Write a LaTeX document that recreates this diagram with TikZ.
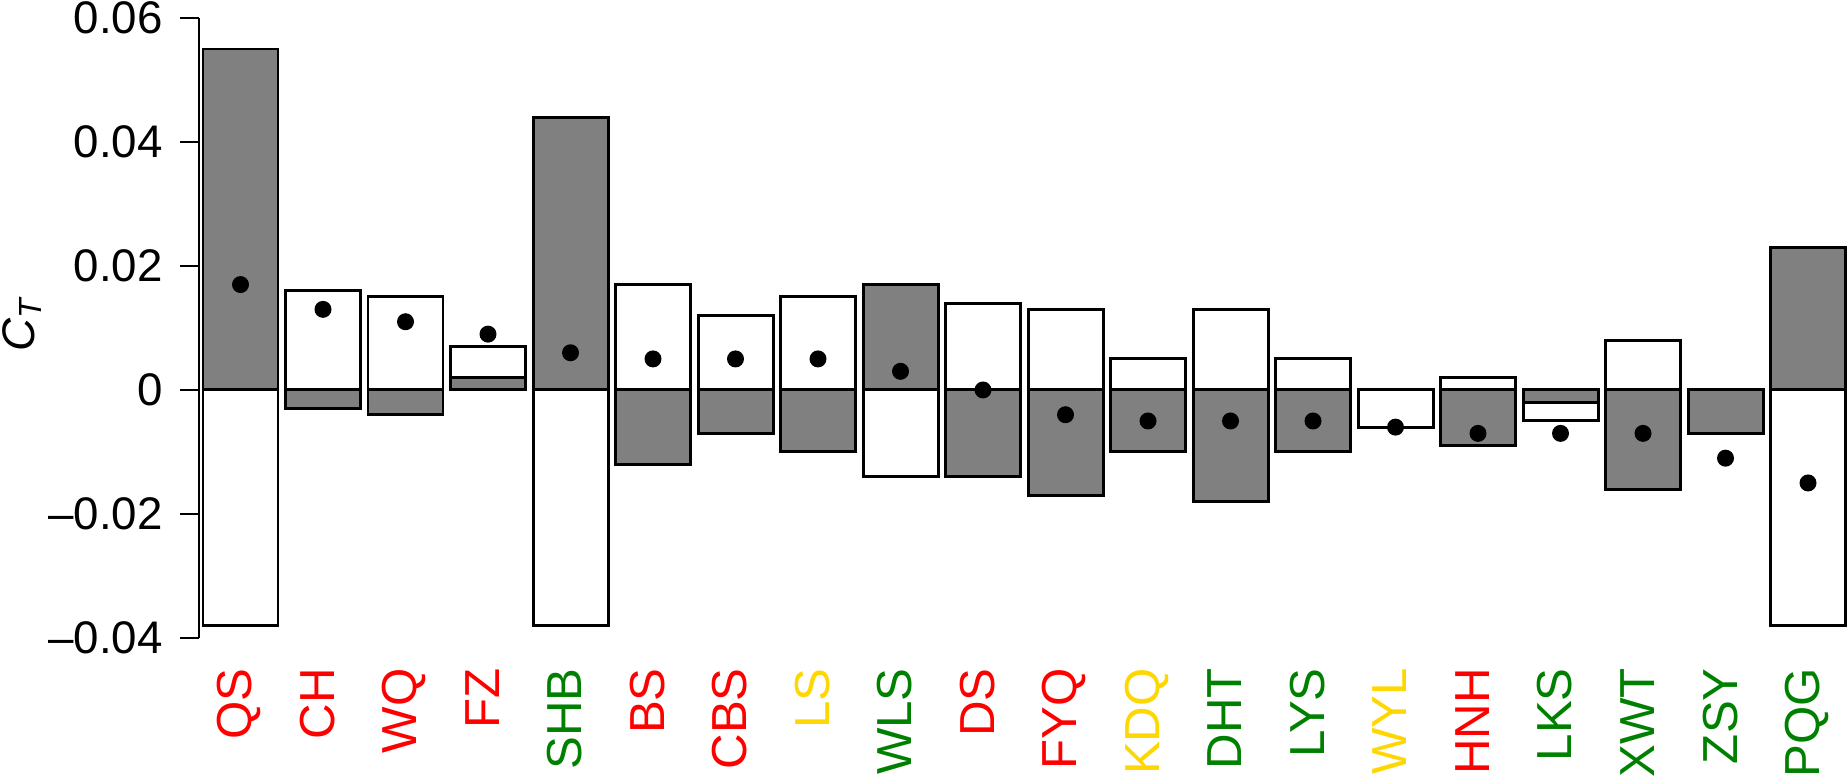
\documentclass[tikz,border=0pt]{standalone}
\usepackage{fontspec}
\setmainfont{Liberation Sans}

\definecolor{grn}{RGB}{0,128,0}
\definecolor{gld}{RGB}{255,215,0}

\begin{document}
\begin{tikzpicture}[x=1.5cm, y=124cm,
  bar/.style={draw=black, line width=1.7pt},
  shade/.style={bar, fill=gray},
  blank/.style={bar, fill=white},
  axisline/.style={line width=1.1pt},
  dot/.style={circle, fill=black, inner sep=0pt, minimum size=0.34cm},
  ticklab/.style={anchor=east, inner sep=0pt, font=\fontsize{26}{30}\selectfont},
  sitelab/.style={anchor=base east, rotate=90, inner sep=0pt, font=\fontsize{28}{32}\selectfont}]

\useasboundingbox (-2.7067,-0.062581) rectangle (21.92,0.062903);

% y axis
\draw[axisline] (-0.0533,0.06) -- (-0.0533,-0.04);
\foreach \v/\t [count=\k] in {0.06/0.06,0.04/0.04,0.02/0.02,0/0,-0.02/--0.02,-0.04/--0.04}
{
  \draw[axisline] (-0.0533,\v) -- (-0.3067,\v);
  \node[ticklab] (tick\k) at (-0.5333,\v) {\t};
}
\node[rotate=90, font=\fontsize{26}{30}\selectfont] (ylab) at (-2.4133,0.0105) {\itshape C\textsubscript{T}};

% bars: name/colour/shaded from/to/blank from/to/dot
\foreach \nm/\cl/\ga/\gb/\wa/\wb/\pt [count=\i from 0] in {
  QS/red/0/0.055/0/-0.038/0.017,
  CH/red/0/-0.003/0/0.016/0.013,
  WQ/red/0/-0.004/0/0.015/0.011,
  FZ/red/0/0.002/0.002/0.007/0.009,
  SHB/grn/0/0.044/0/-0.038/0.006,
  BS/red/0/-0.012/0/0.017/0.005,
  CBS/red/0/-0.007/0/0.012/0.005,
  LS/gld/0/-0.010/0/0.015/0.005,
  WLS/grn/0/0.017/0/-0.014/0.003,
  DS/red/0/-0.014/0/0.014/0,
  FYQ/red/0/-0.017/0/0.013/-0.004,
  KDQ/gld/0/-0.010/0/0.005/-0.005,
  DHT/grn/0/-0.018/0/0.013/-0.005,
  LYS/grn/0/-0.010/0/0.005/-0.005,
  WYL/gld/0/0/0/-0.006/-0.006,
  HNH/red/0/-0.009/0/0.002/-0.007,
  LKS/grn/0/-0.002/-0.002/-0.005/-0.007,
  XWT/grn/0/-0.016/0/0.008/-0.007,
  ZSY/grn/0/-0.007/0/0/-0.011,
  PQG/grn/0/0.023/0/-0.038/-0.015}
{
  \draw[shade] (\i*1.1,\ga) rectangle (\i*1.1+1,\gb);
  \draw[blank] (\i*1.1,\wa) rectangle (\i*1.1+1,\wb);
  \node[dot] (pt\nm) at (\i*1.1+0.5,\pt) {};
  \node[sitelab, text=\cl] (lab\nm) at (\i*1.1+0.653,-0.04484) {\nm};
}
\end{tikzpicture}
\end{document}
